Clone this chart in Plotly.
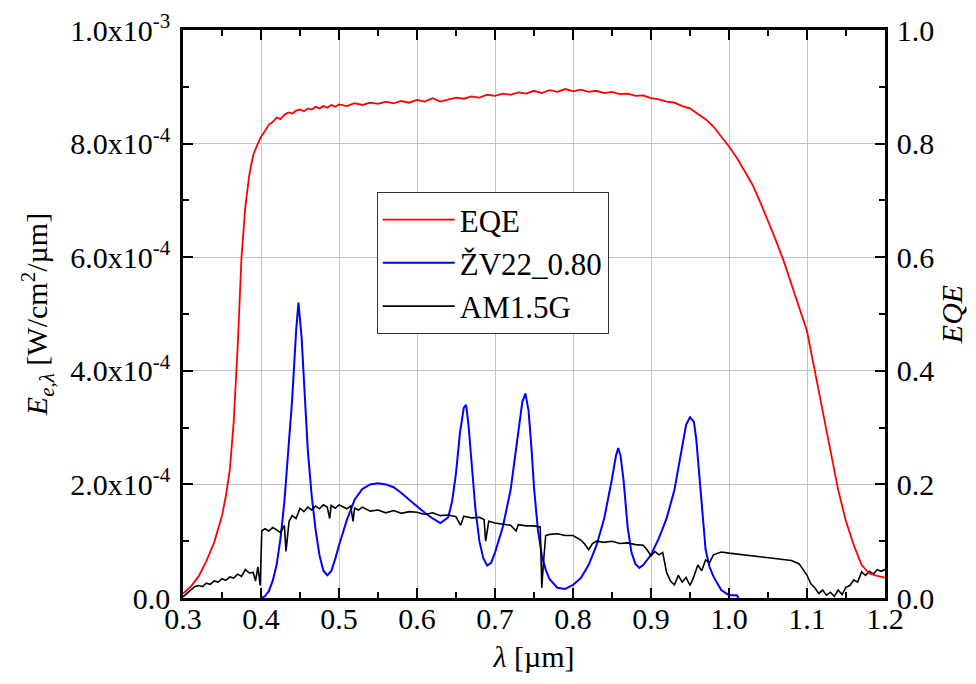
import plotly.graph_objects as go

# EQE (right axis, 0..1)
eqe_wl = [0.300, 0.310, 0.320, 0.330, 0.340, 0.350, 0.355, 0.360, 0.365, 0.370,
          0.375, 0.380, 0.385, 0.390, 0.395, 0.400, 0.405, 0.410, 0.415, 0.420,
          0.425, 0.430, 0.435, 0.440, 0.445, 0.450, 0.455, 0.460, 0.465, 0.470,
          0.475, 0.480, 0.485, 0.490, 0.495, 0.500, 0.51, 0.52, 0.53, 0.54,
          0.55, 0.56, 0.57, 0.58, 0.59, 0.60, 0.61, 0.62, 0.63, 0.64,
          0.65, 0.66, 0.67, 0.68, 0.69, 0.70, 0.71, 0.72, 0.73, 0.74,
          0.75, 0.76, 0.77, 0.78, 0.79, 0.80, 0.81, 0.82, 0.83, 0.84,
          0.85, 0.86, 0.87, 0.88, 0.89, 0.90, 0.91, 0.92, 0.93, 0.94,
          0.95, 0.96, 0.97, 0.98, 0.99, 1.00, 1.01, 1.02, 1.03, 1.04,
          1.05, 1.06, 1.07, 1.08, 1.09, 1.10, 1.11, 1.12, 1.13, 1.14,
          1.15, 1.16, 1.17, 1.18, 1.19, 1.20]
eqe_val = [0.008, 0.020, 0.038, 0.065, 0.098, 0.145, 0.180, 0.225, 0.310, 0.440,
           0.600, 0.690, 0.745, 0.780, 0.797, 0.812, 0.822, 0.833, 0.838, 0.846,
           0.843, 0.851, 0.855, 0.853, 0.858, 0.860, 0.857, 0.862, 0.860, 0.865,
           0.862, 0.866, 0.863, 0.868, 0.865, 0.869, 0.866, 0.871, 0.868, 0.872,
           0.870, 0.874, 0.871, 0.875, 0.872, 0.877, 0.874, 0.880, 0.874, 0.878,
           0.881, 0.879, 0.883, 0.881, 0.886, 0.884, 0.888, 0.886, 0.890, 0.888,
           0.893, 0.889, 0.894, 0.891, 0.896, 0.892, 0.895, 0.891, 0.893, 0.889,
           0.891, 0.887, 0.888, 0.884, 0.885, 0.880, 0.878, 0.874, 0.872, 0.866,
           0.862, 0.852, 0.843, 0.830, 0.813, 0.795, 0.775, 0.752, 0.728, 0.697,
           0.664, 0.630, 0.594, 0.553, 0.512, 0.470, 0.400, 0.330, 0.260, 0.190,
           0.135, 0.093, 0.058, 0.043, 0.039, 0.036]

# ZV22_0.80 spectrum (left axis, W/cm2/um)
zv_wl = [0.400, 0.405, 0.410, 0.415, 0.420, 0.425, 0.430, 0.435, 0.440, 0.445,
         0.448, 0.452, 0.456, 0.460, 0.465, 0.470, 0.475, 0.480, 0.485, 0.490,
         0.495, 0.500, 0.510, 0.520, 0.530, 0.540, 0.550, 0.560, 0.570, 0.580,
         0.590, 0.600, 0.610, 0.620, 0.630, 0.640, 0.645, 0.650, 0.655, 0.660,
         0.663, 0.666, 0.670, 0.675, 0.680, 0.685, 0.690, 0.695, 0.700, 0.710,
         0.720, 0.725, 0.730, 0.735, 0.739, 0.743, 0.747, 0.750, 0.755, 0.760,
         0.765, 0.770, 0.780, 0.790, 0.800, 0.810, 0.820, 0.830, 0.840, 0.845,
         0.850, 0.855, 0.858, 0.861, 0.865, 0.870, 0.875, 0.880, 0.885, 0.890,
         0.900, 0.910, 0.920, 0.930, 0.935, 0.940, 0.945, 0.950, 0.955, 0.958,
         0.962, 0.966, 0.970, 0.975, 0.980, 0.990, 1.000, 1.010, 1.012]
zv_val = [0.00e-4, 0.03e-4, 0.12e-4, 0.30e-4, 0.58e-4, 1.05e-4, 1.70e-4, 2.55e-4, 3.50e-4, 4.70e-4,
          5.20e-4, 4.60e-4, 3.50e-4, 2.60e-4, 1.80e-4, 1.20e-4, 0.75e-4, 0.48e-4, 0.40e-4, 0.47e-4,
          0.68e-4, 0.93e-4, 1.37e-4, 1.73e-4, 1.92e-4, 2.00e-4, 2.02e-4, 2.00e-4, 1.95e-4, 1.85e-4,
          1.73e-4, 1.61e-4, 1.50e-4, 1.40e-4, 1.32e-4, 1.42e-4, 1.70e-4, 2.20e-4, 2.90e-4, 3.35e-4,
          3.40e-4, 3.05e-4, 2.40e-4, 1.55e-4, 1.00e-4, 0.70e-4, 0.57e-4, 0.62e-4, 0.80e-4, 1.25e-4,
          1.90e-4, 2.40e-4, 2.95e-4, 3.45e-4, 3.60e-4, 3.30e-4, 2.60e-4, 1.95e-4, 1.20e-4, 0.75e-4,
          0.50e-4, 0.33e-4, 0.18e-4, 0.16e-4, 0.23e-4, 0.35e-4, 0.58e-4, 0.92e-4, 1.40e-4, 1.72e-4,
          2.10e-4, 2.50e-4, 2.64e-4, 2.50e-4, 2.05e-4, 1.25e-4, 0.80e-4, 0.60e-4, 0.53e-4, 0.58e-4,
          0.76e-4, 1.05e-4, 1.40e-4, 1.90e-4, 2.30e-4, 2.70e-4, 3.05e-4, 3.18e-4, 3.10e-4, 2.80e-4,
          2.10e-4, 1.40e-4, 0.85e-4, 0.55e-4, 0.38e-4, 0.14e-4, 0.05e-4, 0.05e-4, 0.00e-4]

# AM1.5G reference spectrum (left axis, W/cm2/um)
am_wl = [0.300, 0.305, 0.310, 0.315, 0.320, 0.325, 0.330, 0.335, 0.340, 0.345,
         0.350, 0.355, 0.360, 0.365, 0.370, 0.375, 0.380, 0.385, 0.390, 0.393,
         0.396, 0.399, 0.401, 0.405, 0.410, 0.415, 0.420, 0.425, 0.430, 0.432,
         0.436, 0.440, 0.445, 0.450, 0.455, 0.460, 0.465, 0.470, 0.475, 0.480,
         0.485, 0.488, 0.490, 0.495, 0.500, 0.505, 0.510, 0.515, 0.518, 0.520,
         0.525, 0.530, 0.540, 0.550, 0.560, 0.570, 0.580, 0.590, 0.600, 0.610,
         0.620, 0.630, 0.640, 0.650, 0.656, 0.660, 0.670, 0.680, 0.686, 0.688,
         0.692, 0.700, 0.710, 0.720, 0.727, 0.730, 0.740, 0.750, 0.758, 0.760,
         0.762, 0.765, 0.770, 0.780, 0.790, 0.800, 0.810, 0.815, 0.820, 0.825,
         0.830, 0.840, 0.850, 0.860, 0.870, 0.880, 0.890, 0.895, 0.900, 0.905,
         0.910, 0.915, 0.920, 0.925, 0.930, 0.935, 0.940, 0.945, 0.950, 0.955,
         0.960, 0.965, 0.970, 0.975, 0.980, 0.990, 1.000, 1.020, 1.040, 1.060,
         1.080, 1.090, 1.100, 1.105, 1.110, 1.115, 1.120, 1.125, 1.130, 1.135,
         1.140, 1.145, 1.150, 1.155, 1.160, 1.165, 1.170, 1.175, 1.180, 1.185,
         1.190, 1.195, 1.200]
am_val = [0.02e-4, 0.08e-4, 0.14e-4, 0.20e-4, 0.22e-4, 0.20e-4, 0.26e-4, 0.24e-4, 0.30e-4, 0.28e-4,
          0.34e-4, 0.31e-4, 0.37e-4, 0.35e-4, 0.42e-4, 0.38e-4, 0.50e-4, 0.44e-4, 0.45e-4, 0.30e-4,
          0.55e-4, 0.22e-4, 1.18e-4, 1.22e-4, 1.18e-4, 1.24e-4, 1.20e-4, 1.15e-4, 1.28e-4, 0.82e-4,
          1.35e-4, 1.45e-4, 1.40e-4, 1.58e-4, 1.52e-4, 1.60e-4, 1.55e-4, 1.62e-4, 1.57e-4, 1.64e-4,
          1.60e-4, 1.40e-4, 1.63e-4, 1.58e-4, 1.64e-4, 1.60e-4, 1.57e-4, 1.62e-4, 1.35e-4, 1.58e-4,
          1.55e-4, 1.60e-4, 1.53e-4, 1.55e-4, 1.50e-4, 1.54e-4, 1.49e-4, 1.52e-4, 1.51e-4, 1.47e-4,
          1.50e-4, 1.45e-4, 1.46e-4, 1.43e-4, 1.28e-4, 1.44e-4, 1.41e-4, 1.42e-4, 1.38e-4, 1.00e-4,
          1.35e-4, 1.32e-4, 1.30e-4, 1.28e-4, 1.18e-4, 1.29e-4, 1.27e-4, 1.27e-4, 1.25e-4, 0.18e-4,
          0.60e-4, 1.10e-4, 1.12e-4, 1.13e-4, 1.10e-4, 1.10e-4, 1.02e-4, 0.95e-4, 0.85e-4, 0.96e-4,
          1.00e-4, 0.98e-4, 1.00e-4, 0.96e-4, 0.97e-4, 0.94e-4, 0.93e-4, 0.85e-4, 0.74e-4, 0.82e-4,
          0.76e-4, 0.80e-4, 0.45e-4, 0.30e-4, 0.23e-4, 0.40e-4, 0.28e-4, 0.36e-4, 0.22e-4, 0.38e-4,
          0.58e-4, 0.48e-4, 0.67e-4, 0.62e-4, 0.76e-4, 0.81e-4, 0.79e-4, 0.76e-4, 0.73e-4, 0.70e-4,
          0.66e-4, 0.60e-4, 0.40e-4, 0.25e-4, 0.18e-4, 0.08e-4, 0.14e-4, 0.05e-4, 0.10e-4, 0.03e-4,
          0.14e-4, 0.06e-4, 0.19e-4, 0.22e-4, 0.32e-4, 0.28e-4, 0.46e-4, 0.40e-4, 0.47e-4, 0.42e-4,
          0.50e-4, 0.47e-4, 0.50e-4]

y_ticks = [0, 2e-4, 4e-4, 6e-4, 8e-4, 1e-3]
y_ticktext = ["0.0", "2.0x10<sup>-4</sup>", "4.0x10<sup>-4</sup>", "6.0x10<sup>-4</sup>",
              "8.0x10<sup>-4</sup>", "1.0x10<sup>-3</sup>"]

FONT = "Liberation Serif, Times New Roman, serif"
FS = 30

fig = go.Figure()
fig.add_trace(go.Scatter(x=eqe_wl, y=eqe_val, name="EQE", mode="lines",
                         line=dict(color="#ff0000", width=1.8), yaxis="y2"))
fig.add_trace(go.Scatter(x=zv_wl, y=zv_val, name="ŽV22_0.80", mode="lines",
                         line=dict(color="#0000ff", width=2)))
fig.add_trace(go.Scatter(x=am_wl, y=am_val, name="AM1.5G", mode="lines",
                         line=dict(color="#000000", width=1.6)))

axis_common = dict(
    showline=True, linecolor="black", linewidth=2.5,
    ticks="inside", ticklen=10, tickwidth=2, tickcolor="black",
    showgrid=True, gridcolor="#c4c4c4", gridwidth=1, zeroline=False,
    tickfont=dict(family=FONT, size=FS, color="black"),
    automargin=False,
)

# the page body has an 8px margin, so the figure is sized to fit inside it
fig.update_layout(
    width=960, height=668,
    margin=dict(l=175, r=83, t=22, b=78),
    paper_bgcolor="white", plot_bgcolor="white",
    font=dict(family=FONT, size=FS, color="black"),
    showlegend=True,
    legend=dict(x=0.276, y=0.715, xanchor="left", yanchor="top",
                bgcolor="white", bordercolor="#333333", borderwidth=1,
                font=dict(family=FONT, size=31, color="black"),
                itemwidth=72, tracegroupgap=0),
    xaxis=dict(**axis_common, range=[0.3, 1.2], dtick=0.1, tick0=0.3,
               tickformat=".1f", mirror="ticks", ticklabelstandoff=-8,
               minor=dict(ticks="inside", ticklen=6, tickwidth=2, tickcolor="black", dtick=0.05,
                          showgrid=False),
               title=dict(text="<i>λ</i> [µm]", font=dict(family=FONT, size=FS), standoff=13)),
    yaxis=dict(**axis_common, range=[0, 1e-3], tickvals=y_ticks, ticktext=y_ticktext,
               ticklabelstandoff=4,
               minor=dict(ticks="inside", ticklen=6, tickwidth=2, tickcolor="black", dtick=1e-4,
                          showgrid=False),
               title=dict(text="<i>E<sub>e,λ</sub></i> [W/cm<sup>2</sup>/µm]",
                          font=dict(family=FONT, size=FS), standoff=14)),
    yaxis2=dict(showline=True, linecolor="black", linewidth=2.5,
                ticks="inside", ticklen=10, tickwidth=2, tickcolor="black",
                showgrid=False, zeroline=False, overlaying="y", side="right",
                range=[0, 1], dtick=0.2, tickformat=".1f", automargin=False,
                ticklabelstandoff=3,
                tickfont=dict(family=FONT, size=FS, color="black"),
                minor=dict(ticks="inside", ticklen=6, tickwidth=2, tickcolor="black", dtick=0.1),
                title=dict(text="<i>EQE</i>", font=dict(family=FONT, size=FS), standoff=8)),
)

fig.write_html("out.html")
